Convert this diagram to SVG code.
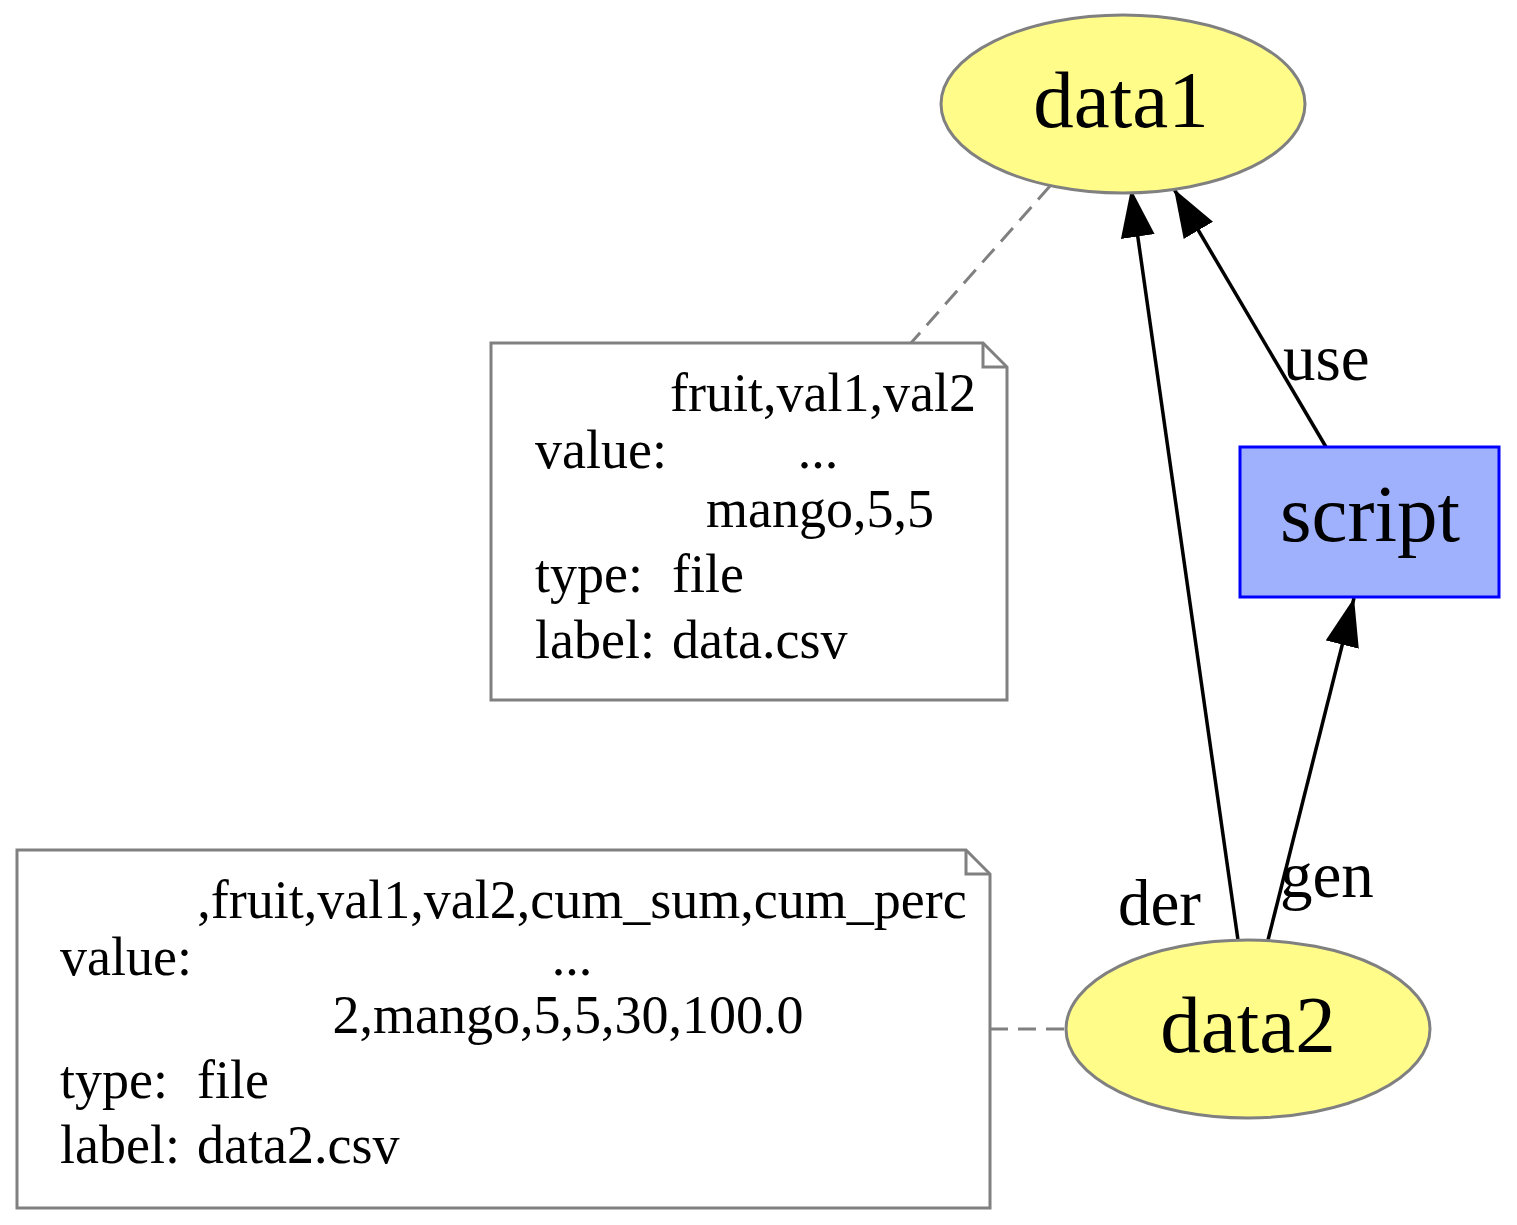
<svg xmlns="http://www.w3.org/2000/svg" width="1517" height="1225" viewBox="0 0 1517 1225">
<defs>
<style>
text{font-family:"Liberation Serif","Times New Roman",serif;fill:#000}
.node{font-size:81px;text-anchor:middle}
.edge{font-size:65px}
.note{font-size:54px}
.mid{text-anchor:middle}
.ell{fill:#fffc8a;stroke:#808080;stroke-width:3}
.notebox{fill:#fff;stroke:#808080;stroke-width:3}
.conn{stroke:#000;stroke-width:3.5;fill:none}
.dash{stroke:#808080;stroke-width:3;stroke-dasharray:18,10;fill:none}
</style>
<marker id="ah" markerUnits="userSpaceOnUse" markerWidth="50" markerHeight="36" refX="48" refY="17" orient="auto" viewBox="0 0 50 36">
<polygon points="0,0 48,17 0,34" fill="#000"/>
</marker>
</defs>
<rect width="1517" height="1225" fill="#fff"/>
<g id="connectors">
<line class="dash" x1="1050" y1="186" x2="911" y2="343"/>
<line class="dash" x1="990" y1="1029" x2="1066" y2="1029"/>
<line id="der" class="conn" x1="1238" y1="940" x2="1131" y2="189" marker-end="url(#ah)"/>
<line id="use" class="conn" x1="1326" y1="447" x2="1174" y2="189" marker-end="url(#ah)"/>
<line id="gen" class="conn" x1="1268" y1="940" x2="1354" y2="598" marker-end="url(#ah)"/>
<text class="edge" x="1283" y="380">use</text>
<text class="edge" x="1118" y="925">der</text>
<text class="edge" x="1280" y="897">gen</text>
</g>
<g id="data1">
<ellipse class="ell" cx="1123" cy="104" rx="182" ry="89"/>
<text class="node" x="1121" y="127">data1</text>
</g>
<g id="script">
<rect x="1240" y="447" width="259" height="150" fill="#9fb1fc" stroke="#0000ff" stroke-width="3"/>
<text class="node" x="1370" y="541">script</text>
</g>
<g id="data2">
<ellipse class="ell" cx="1248" cy="1029" rx="182" ry="89"/>
<text class="node" x="1248" y="1052">data2</text>
</g>
<g id="note1">
<path class="notebox" d="M491,343 H983 L1007,367 V700 H491 Z"/>
<path d="M983,343 V367 H1007" fill="none" stroke="#808080" stroke-width="3"/>
<text class="note mid" x="823" y="411">fruit,val1,val2</text>
<text class="note" x="535" y="468">value:</text>
<text class="note mid" x="818" y="468">...</text>
<text class="note mid" x="820" y="527">mango,5,5</text>
<text class="note" x="535" y="592">type:</text>
<text class="note" x="672" y="592">file</text>
<text class="note" x="535" y="658">label:</text>
<text class="note" x="672" y="658">data.csv</text>
</g>
<g id="note2">
<path class="notebox" d="M17,850 H966 L990,874 V1208 H17 Z"/>
<path d="M966,850 V874 H990" fill="none" stroke="#808080" stroke-width="3"/>
<text class="note mid" x="582" y="918">,fruit,val1,val2,cum_sum,cum_perc</text>
<text class="note" x="60" y="975">value:</text>
<text class="note mid" x="572" y="975">...</text>
<text class="note mid" x="568" y="1033">2,mango,5,5,30,100.0</text>
<text class="note" x="60" y="1098">type:</text>
<text class="note" x="197" y="1098">file</text>
<text class="note" x="60" y="1163">label:</text>
<text class="note" x="197" y="1163">data2.csv</text>
</g>
</svg>
